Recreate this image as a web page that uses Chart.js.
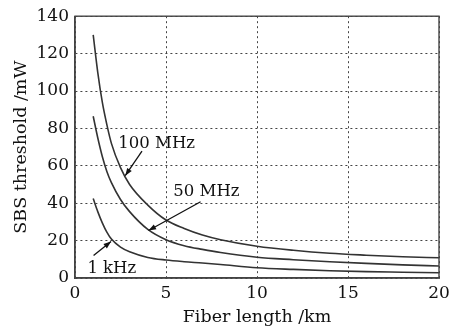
<!DOCTYPE html>
<html>
<head>
<meta charset="utf-8">
<script src="https://cdn.jsdelivr.net/npm/chart.js@4/dist/chart.umd.min.js"></script>
<style>
    body { margin: 0; background: #fff; }
    #wrap { width: 457px; height: 332px; }
</style>
</head>
<body>
<div id="wrap"><canvas id="sbsChart"></canvas></div>
<script>
// fiber length (km) and SBS threshold (mW)
const lengths = [1, 1.25, 1.5, 1.75, 2, 2.5, 3, 4, 5, 6, 7, 8, 10, 12, 14, 16, 18, 20];
const mhz100 = [130, 110, 94, 82, 72, 59, 50, 39, 31, 26.5, 23, 20.5, 17, 14.8, 13.2, 12.2, 11.4, 10.8];
const mhz50 = [86.5, 75, 65, 57, 51, 42, 35.5, 26, 20.5, 17.3, 15.3, 13.6, 11.1, 9.8, 8.7, 7.8, 7.0, 6.4];
const khz1 = [42.5, 35.5, 29.5, 24.5, 20.8, 16.5, 14, 11, 9.6, 8.7, 8, 7.2, 5.5, 4.6, 3.9, 3.4, 3.1, 2.8];
const xTicks = [0, 5, 10, 15, 20];
const yTicks = [0, 20, 40, 60, 80, 100, 120, 140];

// labels with arrows, in data coordinates
const notes = [
    { text: '100 MHz', tx: 2.38, ty: 72, from: [3.68, 67.8], to: [2.76, 54.7] },
    { text: '50 MHz', tx: 5.4, ty: 46, from: [6.9, 40.8], to: [4.04, 25.4] },
    { text: '1 kHz', tx: 0.68, ty: 4.7, from: [1.02, 12], to: [1.98, 19.5] }
];

const FONT = 'DejaVu Serif';
const INK = '#111';

function toPoints(ys) {
    return lengths.map((x, i) => ({ x: x, y: ys[i] }));
}

function curve(ys) {
    return {
        data: toPoints(ys),
        borderColor: '#333',
        borderWidth: 1.6,
        pointRadius: 0,
        cubicInterpolationMode: 'monotone',
        fill: false
    };
}

const frameAndNotes = {
    id: 'frameAndNotes',
    afterDraw(chart) {
        const ctx = chart.ctx;
        const a = chart.chartArea;
        const xs = chart.scales.x;
        const ys = chart.scales.y;
        ctx.save();
        ctx.strokeStyle = '#444';
        ctx.lineWidth = 1.4;
        ctx.strokeRect(a.left, a.top, a.right - a.left, a.bottom - a.top);

        ctx.fillStyle = INK;
        ctx.strokeStyle = INK;
        ctx.font = '16.5px "' + FONT + '"';
        ctx.textBaseline = 'middle';
        ctx.textAlign = 'left';
        notes.forEach(n => {
            ctx.fillText(n.text, xs.getPixelForValue(n.tx), ys.getPixelForValue(n.ty));
            const x1 = xs.getPixelForValue(n.from[0]);
            const y1 = ys.getPixelForValue(n.from[1]);
            const x2 = xs.getPixelForValue(n.to[0]);
            const y2 = ys.getPixelForValue(n.to[1]);
            ctx.lineWidth = 1.3;
            ctx.beginPath();
            ctx.moveTo(x1, y1);
            ctx.lineTo(x2, y2);
            ctx.stroke();
            const ang = Math.atan2(y2 - y1, x2 - x1);
            const len = 8, half = 0.35;
            ctx.beginPath();
            ctx.moveTo(x2, y2);
            ctx.lineTo(x2 - len * Math.cos(ang - half), y2 - len * Math.sin(ang - half));
            ctx.lineTo(x2 - len * Math.cos(ang + half), y2 - len * Math.sin(ang + half));
            ctx.closePath();
            ctx.fill();
        });
        ctx.restore();
    }
};

new Chart(document.getElementById('sbsChart'), {
    type: 'line',
    data: {
        datasets: [curve(mhz100), curve(mhz50), curve(khz1)]
    },
    options: {
        responsive: true,
        maintainAspectRatio: false,
        animation: false,
        layout: { padding: { top: 10, right: 18, left: 0, bottom: 0 } },
        plugins: {
            legend: { display: false },
            tooltip: { enabled: false }
        },
        scales: {
            x: {
                type: 'linear',
                min: 0,
                max: 20,
                afterBuildTicks: s => { s.ticks = xTicks.map(v => ({ value: v })); },
                afterFit: s => { s.height = 54; },
                grid: { color: '#444', lineWidth: 1, tickLength: 0 },
                border: { display: true, color: '#444', width: 1.4, dash: [2, 3] },
                ticks: { color: INK, font: { family: FONT, size: 17 }, padding: 5 },
                title: {
                    display: true,
                    text: 'Fiber length /km',
                    color: INK,
                    font: { family: FONT, size: 17.5 },
                    padding: { top: 0, bottom: 4 }
                }
            },
            y: {
                min: 0,
                max: 140,
                afterBuildTicks: s => { s.ticks = yTicks.map(v => ({ value: v })); },
                afterFit: s => { s.width = 75; },
                grid: { color: '#444', lineWidth: 1, tickLength: 0 },
                border: { display: true, color: '#444', width: 1.4, dash: [2, 3] },
                ticks: { color: INK, font: { family: FONT, size: 17 }, padding: 6 },
                title: {
                    display: true,
                    text: 'SBS threshold /mW',
                    color: INK,
                    font: { family: FONT, size: 17.5 },
                    padding: { top: 11, bottom: 0 }
                }
            }
        }
    },
    plugins: [frameAndNotes]
});
</script>
</body>
</html>
